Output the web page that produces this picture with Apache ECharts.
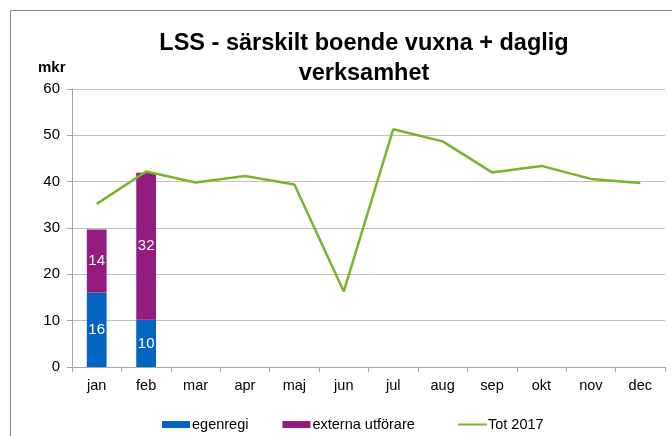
<!DOCTYPE html>
<html>
<head>
<meta charset="utf-8">
<script src="https://cdn.jsdelivr.net/npm/echarts@6/dist/echarts.min.js"></script>
<style>html,body{margin:0;padding:0;background:#fff;}#c{width:672px;height:436px;}</style>
</head>
<body>
<div id="c"></div>
<script>
var categories = ['jan','feb','mar','apr','maj','jun','jul','aug','sep','okt','nov','dec'];
var egenregi = [16.1, 10.2, null, null, null, null, null, null, null, null, null, null];
var externa = [13.6, 31.7, null, null, null, null, null, null, null, null, null, null];
var tot2017 = [35.2, 42.2, 39.8, 41.2, 39.4, 16.3, 51.3, 48.7, 42.0, 43.4, 40.6, 39.7];
var yTicks = [0, 10, 20, 30, 40, 50, 60];

var chart = echarts.init(document.getElementById('c'));
var font = 'Liberation Sans, Arial, sans-serif';
chart.setOption({
  animation: false,
  textStyle: {fontFamily: font},
  title: {
    text: 'LSS - särskilt boende vuxna + daglig\nverksamhet',
    left: 359, textAlign: 'center', top: 24,
    textStyle: {fontFamily: font, fontSize: 23.5, fontWeight: 'bold', color: '#000', lineHeight: 30}
  },
  graphic: [
    {type: 'rect', shape: {x: 10.5, y: 10.5, width: 720, height: 500}, style: {fill: 'none', stroke: '#8c8c8c', lineWidth: 1}, silent: true},
    {type: 'text', left: 38, top: 60, style: {text: 'mkr', font: 'bold 15px Liberation Sans, Arial, sans-serif', fill: '#000'}}
  ],
  legend: [
    {data: ['egenregi', 'externa utförare'], left: 157, top: 412, icon: 'rect', itemWidth: 28, itemHeight: 7, itemGap: 34,
     textStyle: {fontFamily: font, fontSize: 14.5, color: '#000', padding: [0,0,0,-3]}},
    {data: ['Tot 2017'], left: 453, top: 412, icon: 'rect', itemWidth: 29, itemHeight: 2,
     textStyle: {fontFamily: font, fontSize: 14.5, color: '#000', padding: [0,0,0,-4]}}
  ],
  grid: {left: 72, right: 7, top: 89, bottom: 69, containLabel: false},
  xAxis: {
    type: 'category', data: categories, boundaryGap: true,
    axisLine: {lineStyle: {color: '#a6a6a6'}},
    axisTick: {show: true, alignWithLabel: false, length: 5, lineStyle: {color: '#a6a6a6'}},
    axisLabel: {fontFamily: font, fontSize: 14.5, color: '#000', margin: 11}
  },
  yAxis: {
    type: 'value', min: yTicks[0], max: yTicks[yTicks.length-1], interval: 10,
    axisLine: {show: true, lineStyle: {color: '#a6a6a6'}},
    axisTick: {show: true, length: 5, lineStyle: {color: '#a6a6a6'}},
    axisLabel: {fontFamily: font, fontSize: 15, color: '#000', margin: 12},
    splitLine: {lineStyle: {color: '#bfbfbf'}}
  },
  series: [
    {name: 'egenregi', type: 'bar', stack: 's', data: egenregi, barWidth: '40%',
     itemStyle: {color: '#0563c1'},
     label: {show: true, position: 'inside', color: '#fff', fontSize: 15, fontFamily: font, formatter: function(p){return Math.round(p.value);}}},
    {name: 'externa utförare', type: 'bar', stack: 's', data: externa, barWidth: '40%',
     itemStyle: {color: '#951b81'},
     label: {show: true, position: 'inside', color: '#fff', fontSize: 15, fontFamily: font, formatter: function(p){return Math.round(p.value);}}},
    {name: 'Tot 2017', type: 'line', data: tot2017, showSymbol: false, symbol: 'none',
     lineStyle: {color: '#77b52b', width: 2.5}, itemStyle: {color: '#77b52b'}, z: 5}
  ]
});
</script>
</body>
</html>
